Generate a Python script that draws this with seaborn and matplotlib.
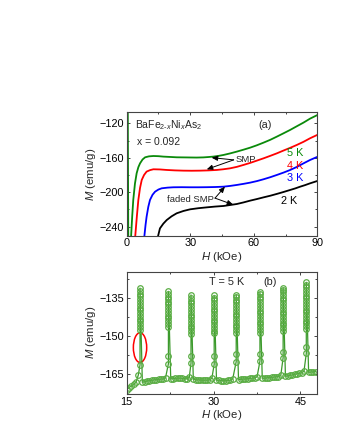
import numpy as np
import pandas as pd
import matplotlib
matplotlib.use("Agg")
import matplotlib.pyplot as plt
import seaborn as sns
from matplotlib.patches import Ellipse

# ---------------- data: panel (a) ----------------
H_5K = [0.5, 0.75, 0.9, 1.9, 2.1, 2.6, 3.1, 3.9, 4.7, 5.5, 6.3, 7.5, 8.7, 10.5, 12.6, 15.0, 17.3, 20.5, 23.6, 26.8, 29.9, 33.0, 36.2, 38.5, 40.9, 43.3, 45.7, 48.8, 52.0, 55.1, 58.3, 61.4, 64.6, 67.8, 70.9, 74.0, 77.2, 80.3, 83.5, 86.6, 90.0]
M_5K = [-100.0, -255.0, -262.0, -262.0, -250.0, -228.0, -209.0, -190.0, -178.0, -171.0, -166.5, -162.0, -159.5, -158.4, -158.0, -158.2, -158.7, -159.1, -159.5, -159.6, -159.7, -159.8, -159.6, -159.2, -158.7, -157.9, -156.8, -155.0, -152.9, -150.7, -148.3, -145.6, -142.5, -139.2, -135.5, -131.7, -127.7, -123.5, -119.2, -114.6, -110.5]

H_4K = [4.0, 4.8, 5.5, 6.3, 7.1, 8.2, 9.4, 11.0, 12.6, 15.7, 18.9, 22.8, 26.8, 30.7, 34.6, 38.6, 42.5, 45.6, 48.8, 52.0, 55.1, 58.3, 61.4, 64.6, 67.7, 70.9, 74.0, 77.2, 80.3, 83.5, 86.6, 90.0]
M_4K = [-252.0, -228.0, -209.0, -195.0, -185.8, -180.0, -176.1, -174.4, -173.4, -173.6, -174.2, -174.7, -175.0, -175.1, -175.0, -174.7, -174.2, -173.4, -172.3, -170.6, -168.4, -166.0, -163.4, -160.7, -157.9, -154.9, -151.7, -148.5, -145.2, -141.5, -137.4, -133.5]

H_3K = [8.3, 8.9, 9.4, 10.2, 11.0, 12.2, 13.4, 15.0, 16.5, 19.3, 22.0, 26.0, 29.9, 33.9, 37.8, 41.8, 45.7, 48.9, 52.0, 55.2, 58.3, 61.5, 64.6, 67.8, 70.9, 74.1, 77.2, 80.4, 83.5, 86.6, 90.0]
M_3K = [-252.0, -238.0, -228.4, -217.0, -209.0, -203.0, -199.4, -196.9, -195.5, -194.7, -194.3, -194.2, -194.3, -194.3, -194.2, -194.0, -193.6, -192.7, -191.6, -190.3, -188.9, -187.1, -185.0, -182.6, -180.0, -177.2, -174.2, -170.6, -166.5, -162.6, -159.0]

H_2K = [14.8, 15.7, 17.3, 18.9, 21.2, 23.6, 26.8, 29.9, 33.8, 37.8, 41.7, 45.7, 48.8, 52.0, 55.1, 58.3, 61.4, 64.6, 67.8, 70.9, 74.0, 77.2, 79.6, 81.9, 84.2, 86.6, 90.0]
M_2K = [-251.0, -242.0, -236.5, -232.3, -228.0, -224.5, -221.8, -219.9, -218.6, -217.6, -216.7, -216.0, -214.9, -213.7, -211.9, -209.8, -208.0, -206.0, -204.1, -202.0, -199.8, -197.4, -195.6, -193.6, -191.8, -189.7, -187.0]

curve_labels = ["5 K", "4 K", "3 K", "2 K"]
curve_colors = ["#0a8a0a", "#ff0000", "#0000ff", "#000000"]

# ---------------- data: panel (b) ----------------
base_H = [
    [15.0, 15.4, 15.8, 16.2, 16.6, 17.0],
    [17.7, 18.1, 18.5, 18.9, 19.3, 19.7, 20.1, 20.5, 20.9, 21.3, 21.7],
    [22.6, 23.0, 23.4, 23.8, 24.2, 24.6, 25.0, 25.4, 25.8],
    [26.5, 26.9, 27.3, 27.7, 28.1, 28.5, 28.9, 29.3, 29.7],
    [30.5, 30.9, 31.3, 31.7, 32.1, 32.5, 32.9, 33.3],
    [34.3, 34.7, 35.1, 35.5, 35.9, 36.3, 36.7, 37.1, 37.5],
    [38.4, 38.8, 39.2, 39.6, 40.0, 40.4, 40.8, 41.2, 41.6],
    [42.4, 42.8, 43.2, 43.6, 44.0, 44.4, 44.8, 45.2, 45.6],
    [46.4, 46.8, 47.2, 47.6],
]
base_M = [
    [-171.3, -170.5, -169.8, -169.2, -168.4, -165.5],
    [-168.4, -168.1, -167.9, -167.7, -167.6, -167.4, -167.3, -167.2, -167.1, -167.0, -166.6],
    [-167.0, -166.9, -166.8, -166.7, -166.7, -166.8, -166.9, -167.0, -166.4],
    [-167.2, -167.3, -167.4, -167.4, -167.5, -167.5, -167.5, -167.4, -166.8],
    [-167.5, -167.6, -167.7, -167.7, -167.7, -167.6, -167.5, -167.0],
    [-167.3, -167.2, -167.1, -167.0, -166.9, -166.8, -166.7, -166.6, -166.2],
    [-166.8, -166.7, -166.6, -166.5, -166.4, -166.3, -166.2, -166.1, -165.6],
    [-166.0, -165.8, -165.6, -165.4, -165.2, -165.0, -164.8, -164.6, -164.0],
    [-164.4, -164.3, -164.2, -164.1],
]
spike_H = [17.3, 22.2, 26.1, 30.1, 33.9, 38.0, 42.0, 46.0]
spike_M = [
    [-161.5, -147.5, -146.4, -145.3, -144.2, -143.1, -142.0, -140.9, -139.8, -138.7, -137.6, -136.5, -135.4, -134.3, -133.5, -132.3, -131.0],
    [-161.0, -158.0, -146.4, -145.2, -144.1, -143.0, -141.9, -140.8, -139.7, -138.6, -137.5, -136.4, -135.3, -134.6, -133.5, -132.3],
    [-160.8, -157.9, -149.2, -148.1, -147.0, -145.9, -144.8, -143.7, -142.6, -141.5, -140.4, -139.3, -138.2, -137.1, -136.0, -134.9, -133.7],
    [-161.2, -157.9, -149.0, -147.9, -146.8, -145.7, -144.6, -143.5, -142.4, -141.3, -140.2, -139.1, -138.0, -136.9, -135.8, -134.8, -133.9],
    [-160.2, -157.2, -148.8, -147.7, -146.6, -145.5, -144.4, -143.3, -142.2, -141.1, -140.0, -138.9, -137.8, -136.7, -135.6, -134.6, -133.7],
    [-160.0, -157.0, -148.8, -147.6, -146.5, -145.4, -144.3, -143.2, -142.1, -141.0, -139.9, -138.8, -137.7, -136.6, -135.5, -134.4, -133.4, -132.7],
    [-158.6, -156.5, -148.0, -146.9, -145.8, -144.7, -143.6, -142.5, -141.4, -140.3, -139.2, -138.1, -137.0, -135.9, -134.8, -133.7, -132.6, -131.8, -131.0],
    [-156.9, -154.5, -147.2, -146.1, -145.0, -143.9, -142.8, -141.7, -140.6, -139.5, -138.4, -137.3, -136.2, -135.1, -134.0, -132.9, -131.8, -130.7, -129.7, -128.7],
]

# ---------------- style ----------------
sns.set_style("ticks")
plt.rcParams["font.family"] = ["Liberation Sans", "DejaVu Sans"]
plt.rcParams["mathtext.fontset"] = "custom"
plt.rcParams["mathtext.rm"] = "Liberation Sans"
plt.rcParams["mathtext.it"] = "Liberation Sans:italic"
plt.rcParams["axes.linewidth"] = 0.8
plt.rcParams["axes.edgecolor"] = "#444444"

W, Hpx = 337, 436
fig = plt.figure(figsize=(W / 100, Hpx / 100), dpi=100)
ax_a = fig.add_axes([126.7 / W, 1 - 235.7 / Hpx, (317.3 - 126.7) / W, (235.7 - 112.5) / Hpx])
ax_b = fig.add_axes([126.7 / W, 1 - 394.0 / Hpx, (317.3 - 126.7) / W, (394.0 - 271.7) / Hpx])

# panel (a)
curves = [(H_5K, M_5K), (H_4K, M_4K), (H_3K, M_3K), (H_2K, M_2K)]
for (hh, mm), lab, col in zip(curves, curve_labels, curve_colors):
    df = pd.DataFrame({"H": hh, "M": mm})
    sns.lineplot(data=df, x="H", y="M", ax=ax_a, sort=False, estimator=None,
                 color=col, lw=1.3)

ax_a.set_xlim(0, 90)
ax_a.set_ylim(-250.5, -107.5)
ax_a.set_xticks([0, 30, 60, 90])
ax_a.set_xticks([15, 45, 75], minor=True)
ax_a.set_yticks([-240, -200, -160, -120])
ax_a.set_yticks([-220, -180, -140], minor=True)

fs_tick = 7.8
for ax in (ax_a, ax_b):
    ax.tick_params(which="both", direction="in", top=True, right=True,
                   labelsize=fs_tick, length=2.5, width=0.7, colors="#444444",
                   labelcolor="black", pad=2)
    ax.tick_params(which="minor", length=1.5)
    ax.set_xlabel("$\\it{H}$ (kOe)", fontsize=8.2, labelpad=1)
    ax.set_ylabel("$\\it{M}$ (emu/g)", fontsize=8.2, labelpad=2)

ax_a.text(0.044, 0.898, "BaFe$_{2\\text{-}x}$Ni$_x$As$_2$", transform=ax_a.transAxes,
          fontsize=7.5, ha="left", va="center")
ax_a.text(0.052, 0.762, "x = 0.092", transform=ax_a.transAxes,
          fontsize=7.5, ha="left", va="center")
ax_a.text(0.726, 0.898, "(a)", transform=ax_a.transAxes, fontsize=7.8,
          ha="center", va="center")
lab_pos = [(0.886, 0.669), (0.886, 0.568), (0.886, 0.466), (0.851, 0.284)]
for (px, py), lab, col in zip(lab_pos, curve_labels, curve_colors):
    ax_a.text(px, py, lab, transform=ax_a.transAxes, fontsize=7.8, color=col,
              ha="center", va="center")

arrow_kw = dict(arrowstyle="-|>,head_length=0.35,head_width=0.15", color="black", lw=0.7,
                shrinkA=0, shrinkB=0)
ax_a.text(51.5, -162.5, "SMP", fontsize=6.8, ha="left", va="center")
ax_a.annotate("", xy=(40.1, -159.9), xytext=(50.5, -162.5), arrowprops=arrow_kw)
ax_a.annotate("", xy=(37.8, -173.5), xytext=(50.5, -162.5), arrowprops=arrow_kw)
ax_a.text(19.2, -208.1, "faded SMP", fontsize=6.8, ha="left", va="center")
ax_a.annotate("", xy=(46.4, -193.5), xytext=(41.7, -206.9), arrowprops=arrow_kw)
ax_a.annotate("", xy=(50.3, -214.5), xytext=(41.7, -206.9), arrowprops=arrow_kw)

# panel (b): assemble measurement sequence
seq_H, seq_M = [], []
for i in range(len(base_H)):
    seq_H += base_H[i]
    seq_M += base_M[i]
    if i < len(spike_H):
        seq_H += [spike_H[i]] * len(spike_M[i])
        seq_M += spike_M[i]
df_b = pd.DataFrame({"H": seq_H, "M": seq_M})
sns.lineplot(data=df_b, x="H", y="M", ax=ax_b, sort=False, estimator=None,
             color="#3c9a2c", lw=0.9, marker="o", markersize=4.0,
             markerfacecolor="none", markeredgecolor="#5aad44", markeredgewidth=0.9)

ax_b.set_xlim(15, 47.9)
ax_b.set_ylim(-173, -124.5)
ax_b.set_xticks([15, 30, 45])
ax_b.set_xticks([22.5, 37.5], minor=True)
ax_b.set_yticks([-165, -150, -135])
ax_b.set_yticks([-157.5, -142.5, -127.5], minor=True)
ax_b.text(0.525, 0.918, "T = 5 K", transform=ax_b.transAxes, fontsize=7.8,
          ha="center", va="center")
ax_b.text(0.752, 0.918, "(b)", transform=ax_b.transAxes, fontsize=7.8,
          ha="center", va="center")
ax_b.add_patch(Ellipse((17.3, -154.6), 2.3, 11.8, fill=False, edgecolor="red", lw=1.1))

for ax in (ax_a, ax_b):
    ax.yaxis.set_label_coords(-0.15, 0.5)

fig.savefig("out.png", dpi=100)
